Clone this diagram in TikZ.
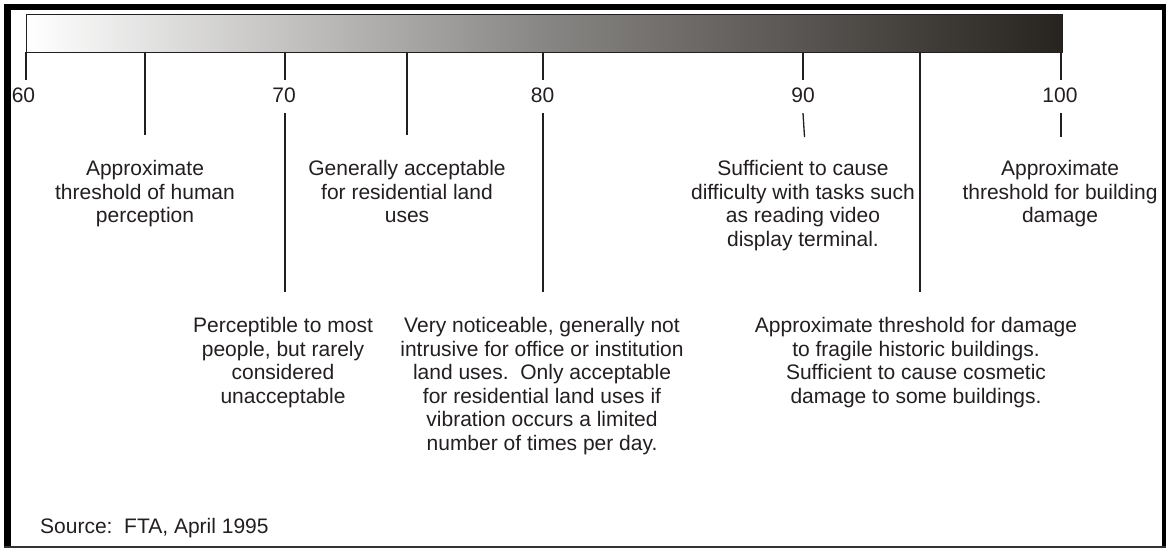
\documentclass[tikz,border=0pt]{standalone}
\usepackage{fontspec}
\setmainfont{Liberation Sans}
\definecolor{ink}{HTML}{231F20}
\definecolor{barend}{HTML}{27231F}
\definecolor{barmid}{HTML}{888684}
\begin{document}
\begin{tikzpicture}[x=1pt,y=-1pt,
  tick/.style={draw=ink,line width=1.3pt},
  txt/.style={text=ink,font=\fontsize{21}{23.5}\selectfont},
  num/.style={txt,inner sep=0pt,text height=22.5pt,text depth=10.5pt,anchor=base},
  desc/.style={txt,inner sep=0pt,anchor=north,align=center}]
\useasboundingbox (0,0) rectangle (1166,548);
\fill[white] (0,0) rectangle (1166,548);
% frame
\fill[black] (4,4) rectangle (1166,10.5);
\fill[black] (4,4) rectangle (10.5,548);
\fill[black] (1162,4) rectangle (1166,548);
\fill[black!80] (4,545.5) rectangle (1166,548);
% gradient bar
\node[draw=ink,line width=1.3pt,left color=white,right color=barend,middle color=barmid,
  minimum width=1036pt,minimum height=38pt,inner sep=0pt,anchor=north west] (bar) at (26,14) {};
% tick positions on the bar
\coordinate (t60) at (26,52);
\coordinate (t65) at (145,52);
\coordinate (t70) at (285,52);
\coordinate (t75) at (407,52);
\coordinate (t80) at (543,52);
\coordinate (t90) at (803,52);
\coordinate (t95) at (920,52);
\coordinate (t100) at (1061,52);
% scale numbers
\node[num] (n60) at (23.5,102.5) {60};
\node[num] (n70) at (284,102.5) {70};
\node[num] (n80) at (542.5,102.5) {80};
\node[num] (n90) at (803,102.5) {90};
\node[num] (n100) at (1060,102.5) {100};
% line ends
\coordinate (e65) at (145,135);
\coordinate (e75) at (407,135);
\coordinate (e70) at (285,292);
\coordinate (e80) at (543,292);
\coordinate (e90) at (804.5,137);
\coordinate (e95) at (920,292);
\coordinate (e100) at (1061,137);
% ticks and leaders
\draw[tick] (t60) -- (n60.north -| t60);
\draw[tick] (t65) -- (e65);
\draw[tick] (t70) -- (n70.north -| t70);
\draw[tick] (n70.south -| t70) -- (e70);
\draw[tick] (t75) -- (e75);
\draw[tick] (t80) -- (n80.north -| t80);
\draw[tick] (n80.south -| t80) -- (e80);
\draw[tick] (t90) -- (n90.north -| t90);
\draw[tick] (n90.south -| t90) -- (e90);
\draw[tick] (t95) -- (e95);
\draw[tick] (t100) -- (n100.north -| t100);
\draw[tick] (n100.south -| t100) -- (e100);
% descriptions
\node[desc] (d65) at (145,160.2) {Approximate\\threshold of human\\perception};
\node[desc] (d75) at (407,160.2) {Generally acceptable\\for residential land\\uses};
\node[desc] (d90) at (803,160.2) {Sufficient to cause\\difficulty with tasks such\\as reading video\\display terminal.};
\node[desc] (d100) at (1060,160.2) {Approximate\\threshold for building\\damage};
\node[desc] (d70) at (283,317.2) {Perceptible to most\\people, but rarely\\considered\\unacceptable};
\node[desc] (d80) at (542,317.2) {Very noticeable, generally not\\intrusive for office or institution\\land uses.\ \ Only acceptable\\for residential land uses if\\vibration occurs a limited\\number of times per day.};
\node[desc] (d95) at (916,317.2) {Approximate threshold for damage\\to fragile historic buildings.\\Sufficient to cause cosmetic\\damage to some buildings.};
% source
\node[txt,inner sep=0pt,anchor=west] (src) at (40,528) {Source:\ \ FTA, April 1995};
\end{tikzpicture}
\end{document}
